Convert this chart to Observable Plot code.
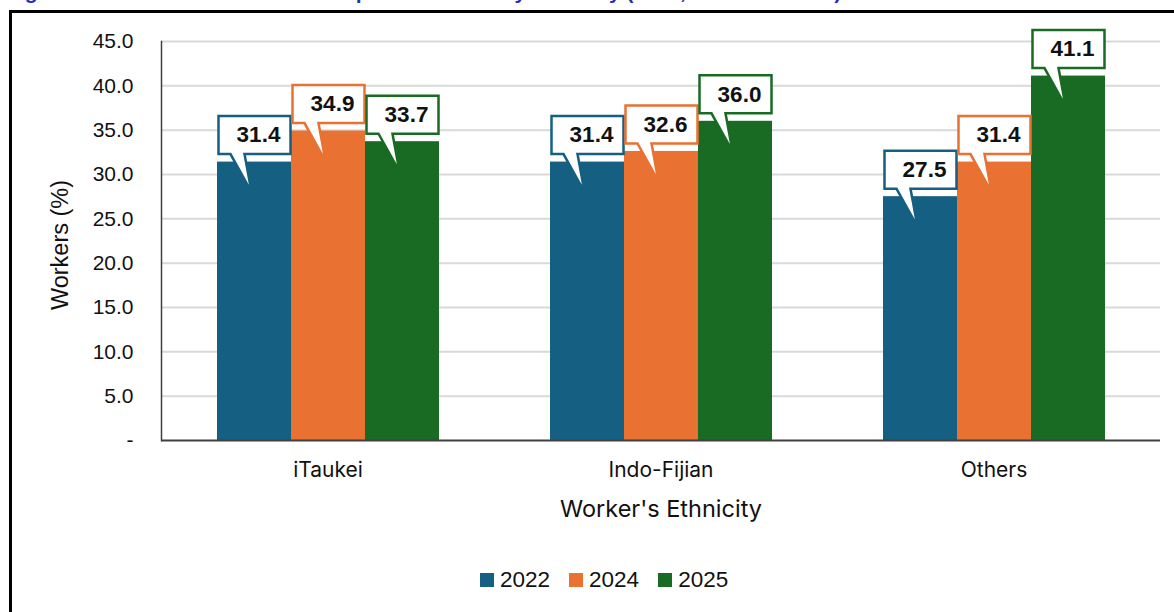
<!DOCTYPE html>
<html><head><meta charset="utf-8">
<script src="https://cdn.jsdelivr.net/npm/d3@7"></script>
<script src="https://cdn.jsdelivr.net/npm/@observablehq/plot@0.6"></script>
<style>
html,body{margin:0;padding:0;overflow:hidden;background:#fff;width:1174px;height:612px;}
#title{position:absolute;left:6px;top:-19px;font:bold 21px "Liberation Sans",Arial,sans-serif;line-height:21px;color:#1f2fc4;white-space:nowrap;}
#frame{position:absolute;left:9px;top:10px;width:2000px;height:2000px;border-left:3px solid #000;border-top:3px solid #000;}
#chart{position:absolute;left:0;top:0;}
#legend{position:absolute;top:567px;left:480px;height:26px;display:flex;align-items:center;font:22.5px "Liberation Sans",Arial,sans-serif;color:#111;}
.item{display:flex;align-items:center;margin-right:19px}
.sw{width:14px;height:14px;margin-right:6px}
</style></head><body>
<div id="title">Figure 5: Share of Workers with Unpaid Overtime by Ethnicity (2022, 2024 and 2025)</div>
<div id="frame"></div>
<div id="chart"></div>
<div id="legend"></div>
<script>
const ethnicities = ["iTaukei", "Indo-Fijian", "Others"];
const years = ["2022", "2024", "2025"];
const colors = ["#156082", "#E97132", "#196B24"];
const values2022 = [31.4, 31.4, 27.5];
const values2024 = [34.9, 32.6, 31.4];
const values2025 = [33.7, 36.0, 41.1];
const yTicks = [0, 5, 10, 15, 20, 25, 30, 35, 40, 45];
const yLabel = "Workers (%)";
const xLabel = "Worker's Ethnicity";

const series = [values2022, values2024, values2025];
const rows = ethnicities.flatMap((e, i) => years.map((y, j) => ({ethnicity: e, year: y, value: series[j][i]})));

// callout shape drawn relative to the top-centre of each bar
const callout = {
  draw(ctx) {
    ctx.moveTo(-36, -46);
    ctx.lineTo(36, -46);
    ctx.lineTo(36, -8);
    ctx.lineTo(-10, -8);
    ctx.lineTo(-3, 30);
    ctx.lineTo(-24, -8);
    ctx.lineTo(-36, -8);
    ctx.closePath();
  }
};

const chart = Plot.plot({
  width: 1174, height: 540,
  marginLeft: 161, marginRight: 14, marginTop: 41, marginBottom: 100,
  style: {background: "transparent", fontFamily: "Liberation Sans, Arial, sans-serif", color: "#111"},
  fx: {domain: ethnicities, padding: 0, label: null, axis: null},
  x: {domain: years, paddingInner: 0, paddingOuter: 0.75, axis: null},
  y: {domain: [0, 45], axis: null},
  color: {domain: years, range: colors},
  marks: [
    Plot.ruleY(yTicks.filter(d => d > 0), {stroke: "#d9d9d9", strokeWidth: 2}),
    Plot.barY(rows, {fx: "ethnicity", x: "year", y: "value", fill: "year"}),
    Plot.dot(rows, {fx: "ethnicity", x: "year", y: "value", symbol: callout, fill: "white", stroke: "year", strokeWidth: 2.5}),
    Plot.text(rows, {fx: "ethnicity", x: "year", y: "value", text: d => d.value.toFixed(1), dy: -27, dx: 4,
      fontWeight: "bold", fontSize: 22.5, fill: "#111", fontFamily: "Liberation Sans, Arial, sans-serif"}),
    Plot.ruleY([0], {stroke: "#404040", strokeWidth: 2}),
    Plot.frame({anchor: "left", stroke: "#404040", strokeWidth: 1.5, facet: "super"}),
    Plot.axisY({ticks: yTicks, tickFormat: d => d === 0 ? "-" : d.toFixed(1), tickSize: 0, tickPadding: 28,
      fontSize: 21, label: null}),
    Plot.axisFx({anchor: "bottom", tickSize: 0, tickPadding: 22, fontSize: 21, fontFamily: "Inter, sans-serif", label: null}),
    Plot.text([yLabel], {frameAnchor: "left", rotate: -90, dx: -101, dy: 4, textAnchor: "middle", fontSize: 23.5, facet: "super"}),
    Plot.text([xLabel], {frameAnchor: "bottom", dy: 69, lineAnchor: "middle", textAnchor: "middle", fontSize: 23.5,
      fontFamily: "Inter, sans-serif", facet: "super"})
  ]
});
document.getElementById("chart").appendChild(chart);

const legend = document.getElementById("legend");
years.forEach((y, i) => {
  const item = document.createElement("div");
  item.className = "item";
  const sw = document.createElement("div");
  sw.className = "sw";
  sw.style.background = colors[i];
  const t = document.createElement("span");
  t.textContent = y;
  item.appendChild(sw); item.appendChild(t);
  legend.appendChild(item);
});
</script>
</body></html>
